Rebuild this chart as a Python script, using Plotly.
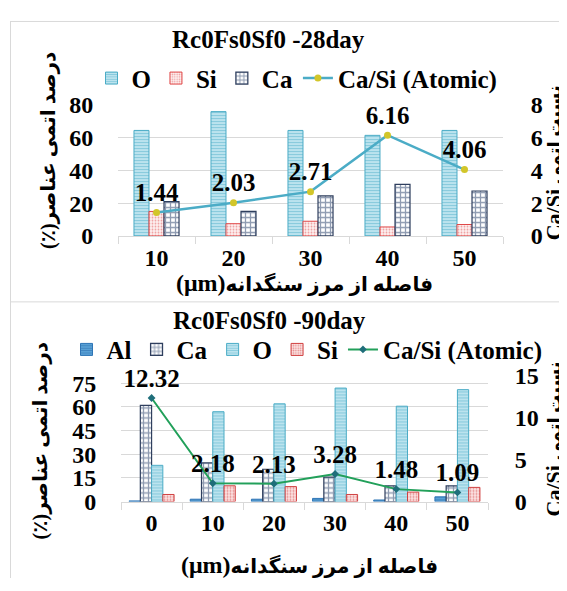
import plotly.graph_objects as go

# ---------------- data ----------------
top_cats = ["10", "20", "30", "40", "50"]
top_O = [64.5, 76, 64.5, 61.5, 64.5]
top_Si = [15, 7.5, 9, 5.5, 7]
top_Ca = [21, 15, 24.5, 31.5, 27.5]
top_ratio = [1.44, 2.03, 2.71, 6.16, 4.06]

bot_cats = ["0", "10", "20", "30", "40", "50"]
bot_Al = [0.4, 1.5, 1.5, 2, 1, 3]
bot_Ca = [61, 24.5, 20.5, 15.5, 10, 10]
bot_O = [23, 57, 62, 72, 60.5, 71]
bot_Si = [4.5, 10, 9.5, 4.5, 6, 9]
bot_ratio = [12.32, 2.18, 2.13, 3.28, 1.48, 1.09]

top_title = "Rc0Fs0Sf0 -28day"
bot_title = "Rc0Fs0Sf0 -90day"
ratio_name = "Ca/Si (Atomic)"

# the page body keeps an 8px margin, so the figure is drawn 8px in from the corner
OFF = 8
W, H = 567 - OFF, 591 - OFF
SERIF = "Times New Roman, Liberation Serif, serif"
ARFONT = "Times New Roman, Liberation Serif, DejaVu Sans, serif"
tick24 = dict(family=SERIF, size=24, color="black", weight="bold")
big25 = dict(family=SERIF, size=25, color="black", weight="bold")

def px(x):
    return (x - OFF) / W

def py(y):
    return 1 - (y - OFF) / H

# ---------------- styles ----------------
O_style = dict(color="#4bacc6", line=dict(color="#4bacc6", width=1),
               pattern=dict(shape="-", fgcolor="#3fa7c4", bgcolor="#cdebf4", size=3, solidity=0.5))
Si_style = dict(color="#e05050", line=dict(color="#e04848", width=1),
                pattern=dict(shape=".", fgcolor="#e05050", bgcolor="#fdf0f0", size=3, solidity=0.3))
Ca_style = dict(color="#1f3864", line=dict(color="#2f3f5e", width=1.2),
                pattern=dict(shape="+", fgcolor="#1f3864", bgcolor="#ffffff", size=5, solidity=0.45))
Al_style = dict(color="#2e75b6", line=dict(color="#2e75b6", width=1),
                pattern=dict(shape="-", fgcolor="#1f5f9e", bgcolor="#5ba3d8", size=3, solidity=0.4))
Si2_style = dict(color="#c00000", line=dict(color="#d04040", width=1),
                 pattern=dict(shape=".", fgcolor="#d03030", bgcolor="#fbe4e4", size=3, solidity=0.35))

fig = go.Figure()

# ---------------- top chart ----------------
wt = 0.195
for name, vals, st, off in [("O", top_O, O_style, -1.5 * wt),
                            ("Si", top_Si, Si_style, -0.5 * wt),
                            ("Ca", top_Ca, Ca_style, 0.5 * wt)]:
    fig.add_trace(go.Bar(x=top_cats, y=vals, name=name, marker=st, width=wt, offset=off,
                         xaxis="x", yaxis="y", legend="legend"))

fig.add_trace(go.Scatter(x=top_cats, y=top_ratio, name=ratio_name, xaxis="x", yaxis="y2",
                         mode="lines+markers+text", text=[f"{v:.2f}" for v in top_ratio],
                         textposition="top center", textfont=big25, cliponaxis=False,
                         line=dict(color="#4bacc6", width=2.5),
                         marker=dict(symbol="circle", size=7, color="#d2c62a"),
                         legend="legend"))

# ---------------- bottom chart ----------------
wb = 0.184
for name, vals, st, off in [("Al", bot_Al, Al_style, -2 * wb),
                            ("Ca", bot_Ca, Ca_style, -1 * wb),
                            ("O", bot_O, O_style, 0),
                            ("Si", bot_Si, Si2_style, wb)]:
    fig.add_trace(go.Bar(x=bot_cats, y=vals, name=name, marker=st, width=wb, offset=off,
                         xaxis="x2", yaxis="y3", legend="legend2"))

fig.add_trace(go.Scatter(x=bot_cats, y=bot_ratio, name=ratio_name, xaxis="x2", yaxis="y4",
                         mode="lines+markers+text", text=[f"{v:.2f}" for v in bot_ratio],
                         textposition="top center", textfont=big25, cliponaxis=False,
                         line=dict(color="#22a05a", width=2),
                         marker=dict(symbol="diamond", size=6, color="#1f6e7a"),
                         legend="legend2"))

xcommon = dict(type="category", showline=True, linecolor="#d9d9d9", linewidth=1,
               ticks="outside", tickson="boundaries", ticklen=7, tickcolor="#d9d9d9",
               tickfont=tick24, showgrid=False, zeroline=False, fixedrange=True)
ycommon = dict(showgrid=True, gridcolor="#d9d9d9", gridwidth=1, zeroline=False,
               showline=False, ticks="outside", tickcolor="rgba(0,0,0,0)", tickfont=tick24)
yright = dict(showgrid=False, zeroline=False, showline=False, ticks="outside",
              tickcolor="rgba(0,0,0,0)", tickfont=tick24)

ann_ar = dict(family=ARFONT, size=20, color="black", weight="bold")
ann_ar_r = dict(family=ARFONT, size=18, color="black", weight="bold")

fig.update_layout(
    width=W, height=H, margin=dict(l=0, r=0, t=0, b=0),
    paper_bgcolor="white", plot_bgcolor="white",
    barmode="group", showlegend=True,
    xaxis=dict(domain=[px(118), px(503)], anchor="y", **xcommon),
    yaxis=dict(domain=[py(233), py(96)], range=[0, 80], dtick=20, anchor="x",
               ticklen=19, **ycommon),
    yaxis2=dict(overlaying="y", side="right", range=[0, 8], dtick=2, anchor="x",
                ticklen=22, **yright),
    xaxis2=dict(domain=[px(121), px(488)], anchor="y3", **xcommon),
    yaxis3=dict(domain=[py(511), py(379)], range=[0, 80], tickvals=[0, 15, 30, 45, 60, 75],
                anchor="x2", ticklen=19, **ycommon),
    yaxis4=dict(overlaying="y3", side="right", range=[0, 15], dtick=5, anchor="x2",
                ticklen=21, **yright),
    legend=dict(orientation="h", x=px(297), xanchor="center", y=py(68), yanchor="middle",
                font=big25, bgcolor="rgba(0,0,0,0)", traceorder="normal", itemwidth=30),
    legend2=dict(orientation="h", x=px(307), xanchor="center", y=py(352), yanchor="middle",
                 font=big25, bgcolor="rgba(0,0,0,0)", traceorder="normal", itemwidth=30),
)

annotations = [
    dict(text=top_title, x=px(268), y=py(27), font=big25),
    dict(text=bot_title, x=px(269), y=py(321), font=big25),
    dict(text="(٪)درصد اتمی عناصر", x=px(49), y=py(144), textangle=-90, font=ann_ar),
    dict(text="(٪)درصد اتمی عناصر", x=px(40), y=py(448), textangle=-90, font=ann_ar),
    dict(text="<span style='font-size:22px'>Ca/Si</span> نسبت اتمی", x=px(553), y=py(157),
         textangle=-90, font=ann_ar_r),
    dict(text="<span style='font-size:22px'>Ca/Si</span> نسبت اتمی", x=px(553), y=py(446),
         textangle=-90, font=ann_ar_r),
    dict(text="<span style='font-size:24px'>(μm)</span>فاصله از مرز سنگدانه", x=px(304), y=py(282),
         font=ann_ar),
    dict(text="<span style='font-size:24px'>(μm)</span>فاصله از مرز سنگدانه", x=px(309), y=py(577),
         font=ann_ar),
]
for a in annotations:
    a.update(xref="paper", yref="paper", xanchor="center", yanchor="middle", showarrow=False)
fig.update_layout(annotations=annotations)

frame = dict(type="line", xref="paper", yref="paper", line=dict(color="#d9d9d9", width=1))
fig.update_layout(shapes=[
    dict(x0=px(10), x1=1, y0=py(8.5), y1=py(8.5), **frame),
    dict(x0=px(10.5), x1=px(10.5), y0=py(8), y1=0, **frame),
    dict(x0=px(10), x1=1, y0=py(302), y1=py(302), **frame),
])

fig.write_html("out.html")
